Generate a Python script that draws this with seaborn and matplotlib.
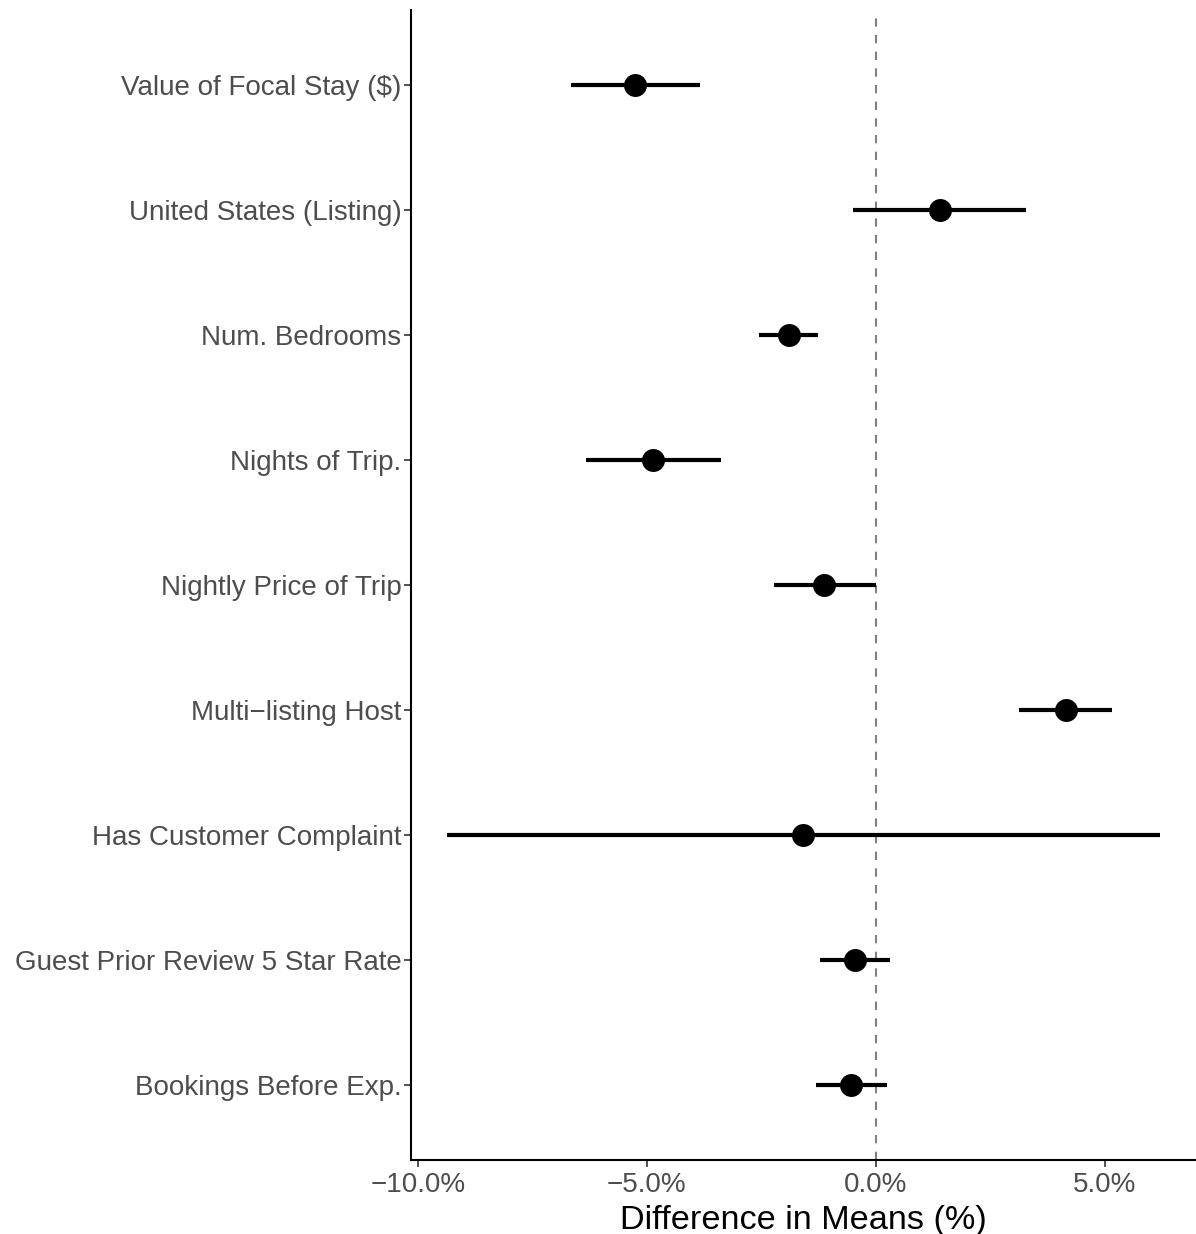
import numpy as np
import pandas as pd
import matplotlib
matplotlib.use("Agg")
import matplotlib.pyplot as plt
from matplotlib.ticker import FuncFormatter
import seaborn as sns

sns.set_theme(style="white")
plt.rcParams['font.family'] = ['Liberation Sans', 'DejaVu Sans']

# covariate balance: difference in means with 95% CI
labels = ["Value of Focal Stay ($)", "United States (Listing)", "Num. Bedrooms",
          "Nights of Trip.", "Nightly Price of Trip", "Multi\u2212listing Host",
          "Has Customer Complaint", "Guest Prior Review 5 Star Rate",
          "Bookings Before Exp."]
est = [-5.25, 1.40, -1.90, -4.86, -1.14, 4.16, -1.60, -0.46, -0.55]
lo = [-6.65, -0.50, -2.56, -6.32, -2.23, 3.13, -9.37, -1.23, -1.31]
hi = [-3.85, 3.28, -1.27, -3.39, 0.00, 5.16, 6.21, 0.31, 0.24]

df = pd.DataFrame({"label": labels, "est": est, "lo": lo, "hi": hi})

fig = plt.figure(figsize=(11.96, 12.34), dpi=100)
ax = fig.add_axes([411/1196, 74/1234, 785/1196, 1150/1234])

ax.axvline(0, color="#808080", linestyle=(0, (4, 4)), linewidth=1.5, zorder=1)
ax.hlines(np.arange(len(df)), df["lo"], df["hi"], color="black", linewidth=3, zorder=2)
sns.pointplot(data=df, x="est", y="label", order=labels, linestyle="none",
              markers="o", color="black", errorbar=None, markersize=14.5, ax=ax, zorder=3)

rng = max(df["hi"]) - min(df["lo"])
ax.set_xlim(min(df["lo"]) - 0.05 * rng, max(df["hi"]) + 0.05 * rng)
ax.set_ylim(len(df) - 1 + 0.6, -0.6)
ax.set_xticks([-10, -5, 0, 5])
ax.xaxis.set_major_formatter(FuncFormatter(lambda v, p: f"{v:.1f}%".replace("-", "\u2212")))

ax.set_xlabel("Difference in Means (%)", fontsize=24.7, color="black", labelpad=5)
ax.set_ylabel("")
ax.tick_params(axis="both", which="both", length=5, width=1.2, color="#333333",
               labelsize=20, labelcolor="#4D4D4D", pad=2, bottom=True, left=True)
ax.tick_params(axis="x", pad=4)
for s in ["top", "right"]:
    ax.spines[s].set_visible(False)
for s in ["left", "bottom"]:
    ax.spines[s].set_color("black")
    ax.spines[s].set_linewidth(1.5)

fig.savefig("out.png", dpi=100)
